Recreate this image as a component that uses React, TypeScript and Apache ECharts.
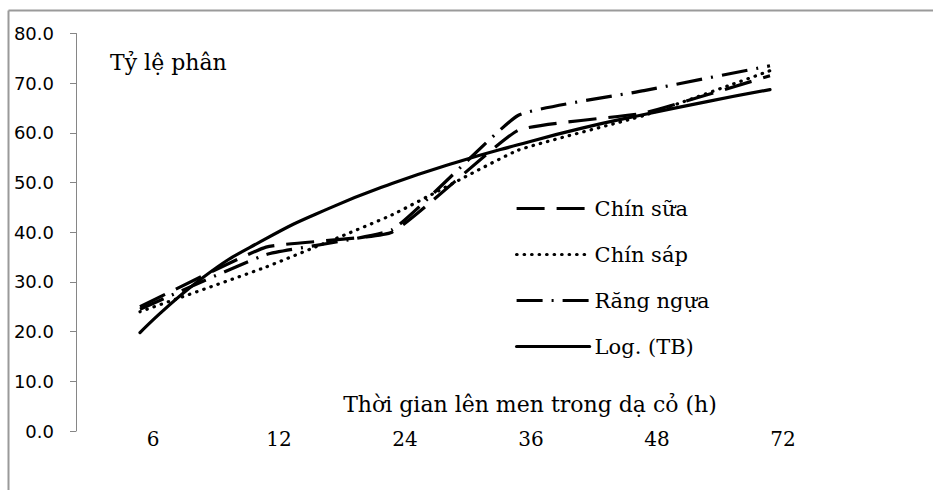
import React, { useEffect, useRef } from 'react';
import * as echarts from 'echarts';

const categories = ['6', '12', '24', '36', '48', '72'];
const seriesNames = ['Chín sữa', 'Chín sáp', 'Răng ngựa', 'Log. (TB)'];
const chinSua = [25.0, 37.0, 40.0, 60.5, 64.0, 71.5];
const chinSap = [24.0, 33.0, 43.5, 56.5, 63.5, 72.5];
const rangNgua = [24.5, 35.5, 40.5, 63.5, 68.5, 73.5];
// Log trend line at half-category steps
const logTBPos = [1, 1.5, 2, 2.5, 3, 3.5, 4, 4.5, 5, 5.5, 6];
const logTB = [19.8, 30.9, 38.7, 44.8, 49.8, 54.0, 57.6, 60.9, 63.7, 66.3, 68.7];
const yTitle = 'Tỷ lệ phân';
const xTitle = 'Thời gian lên men trong dạ cỏ (h)';

export default function App() {
  const ref = useRef<HTMLDivElement>(null);
  useEffect(() => {
    const chart = echarts.init(ref.current!, null, { renderer: 'svg' });
    const serif = '"DejaVu Serif", serif';
    const sans = '"DejaVu Sans", sans-serif';
    const mk = (name: string, data: number[][], type: any, cap: string, smooth: number) => ({
      type: 'line',
      name,
      data,
      symbol: 'none',
      smooth,
      lineStyle: { color: '#000', width: 3.2, type, cap },
      itemStyle: { color: '#000' },
    });
    const toPairs = (vals: number[]) => vals.map((v, i) => [i + 1, v]);
    chart.setOption({
      animation: false,
      grid: { left: 140, right: 163, top: 33.5, bottom: 59 },
      xAxis: {
        type: 'value',
        min: 1,
        max: 6,
        interval: 1,
        axisLine: { show: false },
        axisTick: { show: false },
        splitLine: { show: false },
        axisLabel: {
          formatter: (v: number) => categories[Math.round(v) - 1] ?? '',
          fontFamily: serif,
          fontSize: 20,
          color: '#000',
          margin: -2,
          padding: [0, 0, 0, 26],
        },
      },
      yAxis: {
        type: 'value',
        min: 0,
        max: 80,
        interval: 10,
        offset: 64,
        axisLine: { show: true, lineStyle: { color: '#868686', width: 1 } },
        axisTick: { show: true, length: 6, lineStyle: { color: '#868686' } },
        splitLine: { show: false },
        axisLabel: {
          formatter: (v: number) => v.toFixed(1),
          fontFamily: sans,
          fontSize: 18,
          color: '#000',
          margin: 22,
        },
      },
      legend: {
        orient: 'vertical',
        left: 510,
        top: 193,
        itemWidth: 73,
        itemHeight: 20,
        itemGap: 25,
        data: seriesNames,
        itemStyle: { opacity: 0, color: 'transparent', borderWidth: 0 },
        lineStyle: { width: 3.2 },
        textStyle: { fontFamily: serif, fontSize: 21, color: '#000' },
      },
      series: [
        mk(seriesNames[0], toPairs(chinSua), [28, 12], 'butt', 0.12),
        mk(seriesNames[1], toPairs(chinSap), [0.5, 7], 'round', 0.12),
        mk(seriesNames[2], toPairs(rangNgua), [26, 9, 2, 9], 'butt', 0.12),
        mk(seriesNames[3], logTB.map((v, i) => [logTBPos[i], v]), 'solid', 'round', 0.5),
      ],
      graphic: [
        {
          type: 'line',
          shape: { x1: 8.5, y1: 10.5, x2: 933, y2: 10.5 },
          style: { stroke: '#9a9a9a', lineWidth: 2 },
        },
        {
          type: 'line',
          shape: { x1: 8.5, y1: 10.5, x2: 8.5, y2: 490 },
          style: { stroke: '#9a9a9a', lineWidth: 2 },
        },
        {
          type: 'text',
          left: 110,
          top: 51,
          style: { text: yTitle, fontFamily: serif, fontSize: 22, fill: '#000' },
        },
        {
          type: 'text',
          x: 530,
          y: 404,
          style: {
            text: xTitle,
            fontFamily: serif,
            fontSize: 22,
            fill: '#000',
            align: 'center',
            verticalAlign: 'middle',
          },
        },
      ],
    });
    return () => chart.dispose();
  }, []);
  return (
    <div
      ref={ref}
      style={{ position: 'absolute', left: 0, top: 0, width: 933, height: 490, background: '#fff' }}
    />
  );
}
